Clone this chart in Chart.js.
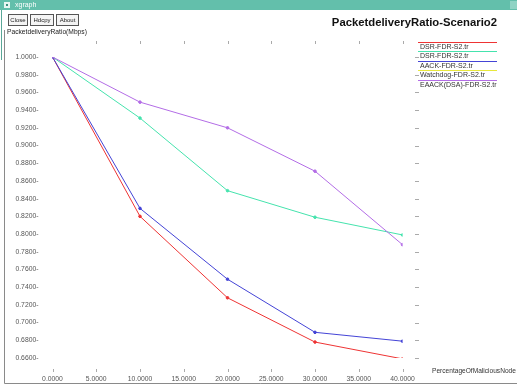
<!DOCTYPE html>
<html>
<head>
<meta charset="utf-8">
<script src="https://cdn.jsdelivr.net/npm/chart.js@4"></script>
<style>
  body { margin: 0; background: #fff; }
  canvas { display: block; }
</style>
</head>
<body>
<canvas id="myChart" width="517" height="387"></canvas>
<script>
// percentage of malicious nodes
const malicious = [0, 10, 20, 30, 40];
const dsrFdr = [1.0, 0.82, 0.728, 0.678, 0.659];
const dsrFdr2 = [1.0, 0.931, 0.849, 0.819, 0.799];
const aackFdr = [1.0, 0.829, 0.749, 0.689, 0.679];
// watchdog sits right under the EAACK curve, it never shows in the plot
const watchdogFdr = [1.0, 0.949, 0.92, 0.871, 0.788];
const eaackFdr = [1.0, 0.949, 0.92, 0.871, 0.788];

const seriesNames = ["DSR-FDR-S2.tr", "DSR-FDR-S2.tr", "AACK-FDR-S2.tr", "Watchdog-FDR-S2.tr", "EAACK(DSA)-FDR-S2.tr"];
const seriesColors = ["#ee3434", "#45e3ad", "#4444d6", "#e8e83c", "#b36de6"];
const xTicks = [0, 5, 10, 15, 20, 25, 30, 35, 40];

function toPoints(values) {
  return values.map((v, i) => ({ x: malicious[i], y: v }));
}

const allSeries = [dsrFdr, dsrFdr2, aackFdr, watchdogFdr, eaackFdr];
const datasets = allSeries.map((values, i) => ({
  label: seriesNames[i],
  data: toPoints(values),
  hidden: i === 3,
  borderColor: seriesColors[i],
  backgroundColor: seriesColors[i],
  borderWidth: 1,
  pointRadius: 1.3,
  pointHoverRadius: 1.3,
  showLine: true,
  tension: 0,
  order: 4 - i,
}));

const font = "'Liberation Sans', Arial, sans-serif";

// the xgraph window decorations, legend and tick marks
const xgraphFrame = {
  id: "xgraphFrame",
  afterDraw(chart) {
    const ctx = chart.ctx;
    const xs = chart.scales.x;
    const ys = chart.scales.y;
    ctx.save();

    // title bar
    ctx.fillStyle = "#63bfab";
    ctx.fillRect(0, 0, 517, 10);
    ctx.fillStyle = "#e8f6f2";
    ctx.fillRect(4, 2, 6, 6);
    ctx.fillStyle = "#3f8f7f";
    ctx.fillRect(6, 4, 2, 2);
    ctx.fillStyle = "#ffffff";
    ctx.font = "7px " + font;
    ctx.textBaseline = "middle";
    ctx.fillText("xgraph", 15, 5);
    ctx.fillStyle = "#8fd3c4";
    ctx.fillRect(510, 1, 7, 8);

    // window border
    ctx.strokeStyle = "#8a8a8a";
    ctx.lineWidth = 1;
    ctx.beginPath();
    ctx.moveTo(4.5, 30);
    ctx.lineTo(4.5, 383.5);
    ctx.lineTo(517, 383.5);
    ctx.stroke();
    ctx.strokeStyle = "#5aa898";
    ctx.beginPath();
    ctx.moveTo(1.5, 10);
    ctx.lineTo(1.5, 60);
    ctx.stroke();

    // buttons
    const buttons = [["Close", 8, 19], ["Hdcpy", 30, 23], ["About", 56, 22]];
    ctx.font = "6px " + font;
    ctx.textAlign = "center";
    buttons.forEach(([txt, x, w]) => {
      ctx.fillStyle = "#f4f4f4";
      ctx.fillRect(x, 14, w, 11);
      ctx.strokeStyle = "#555";
      ctx.strokeRect(x + 0.5, 14.5, w, 11);
      ctx.fillStyle = "#222";
      ctx.fillText(txt, x + w / 2 + 0.5, 20);
    });

    // y axis name
    ctx.textAlign = "left";
    ctx.fillStyle = "#222";
    ctx.font = "6.7px " + font;
    ctx.fillText("PacketdeliveryRatio(Mbps)", 7, 32);

    // title
    ctx.textAlign = "right";
    ctx.font = "bold 11.3px " + font;
    ctx.fillStyle = "#111";
    ctx.fillText("PacketdeliveryRatio-Scenario2", 497, 23);

    // x axis name
    ctx.textAlign = "left";
    ctx.font = "6.6px " + font;
    ctx.fillStyle = "#333";
    ctx.fillText("PercentageOfMaliciousNode", 432, 371);

    // tick marks, top, bottom and right
    ctx.strokeStyle = "#aaa";
    ctx.beginPath();
    xTicks.forEach((t) => {
      const px = Math.round(xs.getPixelForValue(t)) + 0.5;
      if (t > 0) {
        ctx.moveTo(px, 41);
        ctx.lineTo(px, 44);
      }
      ctx.moveTo(px, 369);
      ctx.lineTo(px, 372);
    });
    ys.ticks.forEach((t) => {
      const py = Math.round(ys.getPixelForValue(t.value)) + 0.5;
      ctx.moveTo(415, py);
      ctx.lineTo(419, py);
    });
    ctx.stroke();

    // legend, names first then the line above each one
    ctx.font = "7px " + font;
    ctx.fillStyle = "#333";
    const legendY = seriesNames.map((n, i) => Math.round(42 + i * 9.4) + 0.5);
    seriesNames.forEach((name, i) => {
      ctx.fillText(name, 420, legendY[i] + 4.5);
    });
    seriesNames.forEach((name, i) => {
      ctx.strokeStyle = seriesColors[i];
      ctx.beginPath();
      ctx.moveTo(418, legendY[i]);
      ctx.lineTo(497, legendY[i]);
      ctx.stroke();
    });

    ctx.restore();
  },
};

new Chart(document.getElementById("myChart"), {
  type: "scatter",
  data: { datasets: datasets },
  options: {
    responsive: false,
    animation: false,
    layout: { padding: { left: 0, top: 57, right: 114.5, bottom: 0 } },
    plugins: { legend: { display: false }, tooltip: { enabled: false } },
    scales: {
      x: {
        type: "linear",
        min: 0,
        max: 40,
        afterFit: (scale) => { scale.height = 29; },
        afterBuildTicks: (scale) => { scale.ticks = xTicks.map((v) => ({ value: v })); },
        grid: { display: false, drawTicks: false },
        border: { display: false },
        ticks: {
          padding: 17,
          maxRotation: 0,
          autoSkip: false,
          color: "#555",
          font: { family: font, size: 6.8 },
          callback: (v) => Number(v).toFixed(4),
        },
      },
      y: {
        type: "linear",
        min: 0.66,
        max: 1.0,
        afterFit: (scale) => { scale.width = 52.5; },
        grid: { display: false, drawTicks: false },
        border: { display: false },
        ticks: {
          stepSize: 0.02,
          padding: 14,
          color: "#555",
          font: { family: font, size: 6.8 },
          callback: (v) => Number(v).toFixed(4) + "-",
        },
      },
    },
  },
  plugins: [xgraphFrame],
});
</script>
</body>
</html>
